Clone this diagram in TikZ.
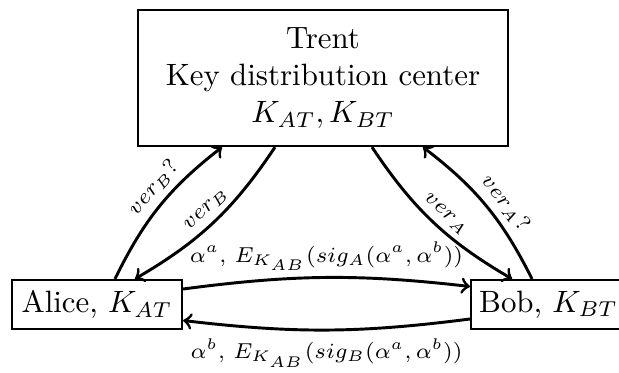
\documentclass[tikz,border=0pt]{standalone}
\usetikzlibrary{calc}
\begin{document}
\begin{tikzpicture}[x=0.324pt,y=0.324pt,
  box/.style={draw, line width=0.7pt, inner sep=0pt, align=center},
  link/.style={->, line width=0.95pt},
  tag/.style={font=\scriptsize, sloped, above, midway, inner sep=2pt},
  msg/.style={font=\scriptsize, midway}]
\useasboundingbox (0,0) rectangle (619,-372);

% parties
\node[box, minimum width=119.9pt, minimum height=44.1pt] (trent) at (323,-78)
  {Trent\\Key distribution center\\$K_{AT}, K_{BT}$};
\node[box, minimum width=55.1pt, minimum height=15.9pt] (alice) at (97,-304.5)
  {Alice, $K_{AT}$};
\node[box, minimum width=50.2pt, minimum height=15.9pt] (bob) at (548.5,-304.5)
  {Bob, $K_{BT}$};

% anchor points on the borders
\coordinate (aU1) at ($(alice.north)+(18,0)$);
\coordinate (aU2) at ($(alice.north)+(38,0)$);
\coordinate (bU1) at ($(bob.north)+(-36.5,0)$);
\coordinate (bU2) at ($(bob.north)+(-16.5,0)$);
\coordinate (t1) at ($(trent.south)+(-101,0)$);
\coordinate (t2) at ($(trent.south)+(-48,0)$);
\coordinate (t3) at ($(trent.south)+(49,0)$);
\coordinate (t4) at ($(trent.south)+(100,0)$);
\coordinate (aR1) at ($(alice.east)+(0,15.5)$);
\coordinate (aR2) at ($(alice.east)+(0,-16)$);
\coordinate (bL1) at ($(bob.west)+(0,18)$);
\coordinate (bL2) at ($(bob.west)+(0,-14.5)$);

% verification requests and answers
\draw[link] (aU1) to[bend left=13] node[tag, pos=0.56] {$ver_B?$} (t1);
\draw[link] (t2) to[bend left=13] node[tag, pos=0.48] {$ver_B$} (aU2);
\draw[link] (t3) to[bend right=13] node[tag, pos=0.52] {$ver_A$} (bU1);
\draw[link] (bU2) to[bend right=13] node[tag, pos=0.44] {$ver_A?$} (t4);

% exchange between Alice and Bob
\draw[link] (aR1) to[bend left=7]
  node[msg, above, yshift=-1.5pt] {$\alpha^a$, $E_{K_{AB}}(sig_A(\alpha^a,\alpha^b))$} (bL1);
\draw[link] (bL2) to[bend left=7]
  node[msg, below, yshift=1pt] {$\alpha^b$, $E_{K_{AB}}(sig_B(\alpha^a,\alpha^b))$} (aR2);
\end{tikzpicture}
\end{document}
